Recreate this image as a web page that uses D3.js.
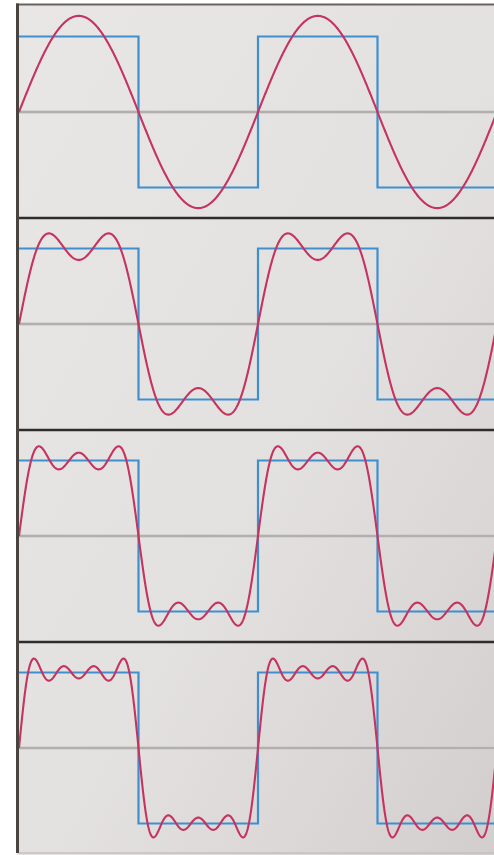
<!DOCTYPE html>
<html>
<head>
<meta charset="utf-8">
<script src="https://cdn.jsdelivr.net/npm/d3@7"></script>
<style>
  html, body { margin: 0; padding: 0; background: #ffffff; }
  svg { display: block; }
</style>
</head>
<body>
<svg id="chart" width="494" height="855"></svg>
<script>
// Odd harmonics of the square wave and their amplitudes (4 / (n·π))
const harmonics = [1, 3, 5, 7];
const amplitudes = [1.2732, 0.4244, 0.2546, 0.1819];
// Number of harmonics summed in each stacked panel
const termsPerPanel = [1, 2, 3, 4];
// Square wave: level of each half period across the visible span
const squareLevels = [1, -1, 1, -1];
const halfPeriods = [0, 0.5, 1, 1.5, 2];

const W = 494, H = 855;
const left = 19, right = 497;       // two full periods, clipped at the window edge
const panelTop = 6, panelH = 212;

const svg = d3.select("#chart");
const defs = svg.append("defs");

const grad = defs.append("linearGradient")
  .attr("id", "bg").attr("x1", "0").attr("y1", "0").attr("x2", "1").attr("y2", "1");
grad.append("stop").attr("offset", "0").attr("stop-color", "#e8e7e6");
grad.append("stop").attr("offset", "0.55").attr("stop-color", "#e3e1e0");
grad.append("stop").attr("offset", "1").attr("stop-color", "#d2cecd");

defs.append("clipPath").attr("id", "clip")
  .append("rect").attr("x", left).attr("y", 0).attr("width", W - left).attr("height", H);

// Background
svg.append("rect").attr("x", left - 2).attr("y", panelTop - 2)
  .attr("width", W - left + 2).attr("height", H - panelTop + 2)
  .attr("fill", "url(#bg)");

const x = d3.scaleLinear().domain([0, 2]).range([left, right]);
const samples = d3.range(0, 2.0001, 1 / 600);

termsPerPanel.forEach((terms, i) => {
  const top = panelTop + i * panelH;
  const y = d3.scaleLinear().domain([-1.404, 1.404]).range([top + panelH, top]);
  const g = svg.append("g").attr("clip-path", "url(#clip)");

  // zero line
  g.append("line")
    .attr("x1", left).attr("x2", W).attr("y1", y(0)).attr("y2", y(0))
    .attr("stroke", "#cfcdcc").attr("stroke-width", 3.5);
  g.append("line")
    .attr("x1", left).attr("x2", W).attr("y1", y(0)).attr("y2", y(0))
    .attr("stroke", "#a8a6a5").attr("stroke-width", 1.4);

  // square wave as a step path
  const sq = [];
  squareLevels.forEach((lv, k) => {
    sq.push([halfPeriods[k], lv]);
    sq.push([halfPeriods[k + 1], lv]);
  });
  const line = d3.line().x(d => x(d[0])).y(d => y(d[1]));
  g.append("path").datum(sq)
    .attr("d", line)
    .attr("fill", "none").attr("stroke", "#3f8fcf").attr("stroke-width", 2.2)
    .attr("stroke-linejoin", "miter");

  // partial Fourier sum
  const pts = samples.map(t => {
    let v = 0;
    for (let k = 0; k < terms; k++) v += amplitudes[k] * Math.sin(2 * Math.PI * harmonics[k] * t);
    return [t, v];
  });
  g.append("path").datum(pts)
    .attr("d", d3.line().x(d => x(d[0])).y(d => y(d[1])).curve(d3.curveLinear))
    .attr("fill", "none").attr("stroke", "#c5335f").attr("stroke-width", 2.1)
    .attr("stroke-linejoin", "round");

  // separator below each panel except the last
  if (i < termsPerPanel.length - 1) {
    svg.append("line")
      .attr("x1", left - 2).attr("x2", W)
      .attr("y1", top + panelH).attr("y2", top + panelH)
      .attr("stroke", "#2f2d2c").attr("stroke-width", 2.6);
  }
});

// frame: top and left edges
svg.append("line").attr("x1", 16).attr("x2", W).attr("y1", 4.5).attr("y2", 4.5)
  .attr("stroke", "#6a625d").attr("stroke-width", 2.2);
svg.append("line").attr("x1", 17.5).attr("x2", 17.5).attr("y1", 3.5).attr("y2", 853)
  .attr("stroke", "#4a4440").attr("stroke-width", 3);
svg.append("line").attr("x1", 19).attr("x2", W).attr("y1", 853).attr("y2", 853)
  .attr("stroke", "#c4c1bf").attr("stroke-width", 1.5);
</script>
</body>
</html>
